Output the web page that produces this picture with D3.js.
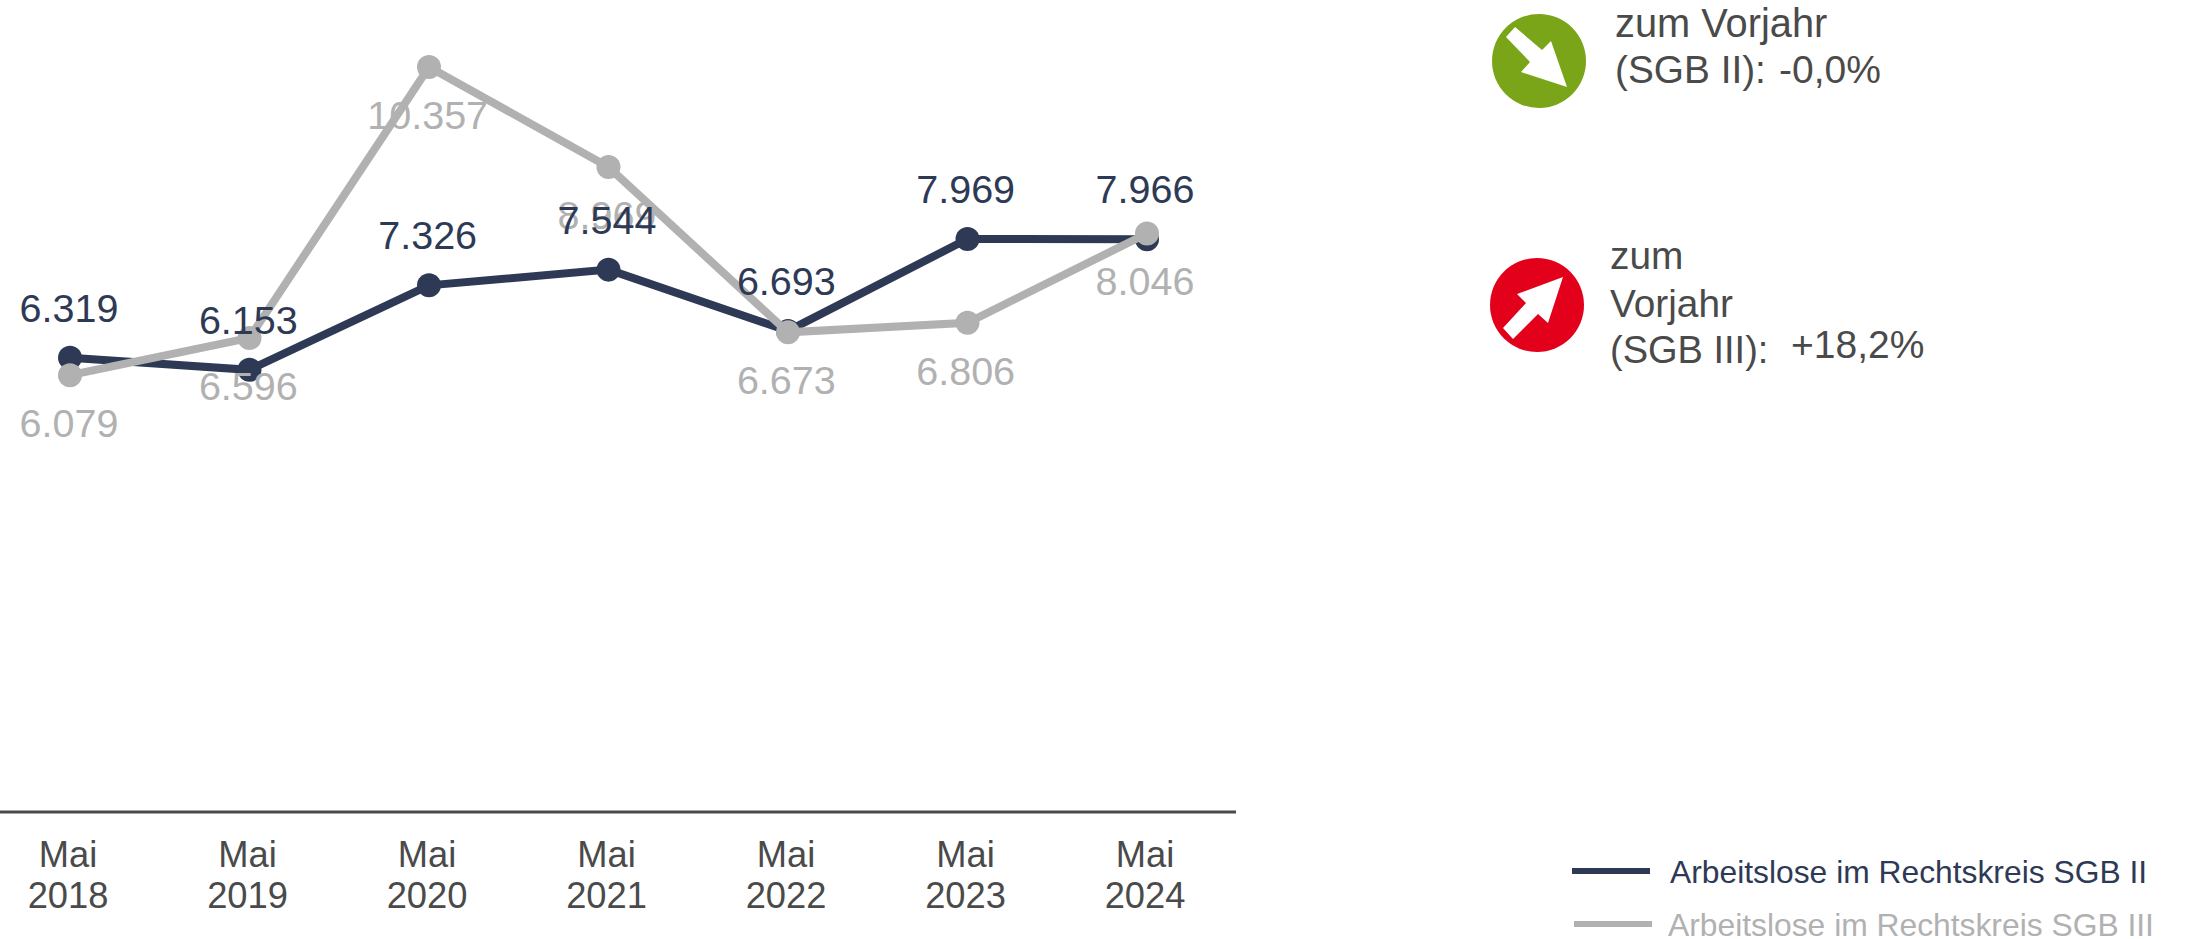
<!DOCTYPE html>
<html>
<head>
<meta charset="utf-8">
<script src="https://cdn.jsdelivr.net/npm/d3@7"></script>
<style>
  html, body { margin: 0; padding: 0; background: #fff; }
  svg { display: block; }
  text { font-family: "Liberation Sans", Arial, sans-serif; }
</style>
</head>
<body>
<div id="chart"></div>
<script>
const months = ['Mai', 'Mai', 'Mai', 'Mai', 'Mai', 'Mai', 'Mai'];
const years = ['2018', '2019', '2020', '2021', '2022', '2023', '2024'];
const sgb2 = [6319, 6153, 7326, 7544, 6693, 7969, 7966];
const sgb3 = [6079, 6596, 10357, 8969, 6673, 6806, 8046];
const legendLabels = ['Arbeitslose im Rechtskreis SGB II', 'Arbeitslose im Rechtskreis SGB III'];

const navy = '#2e3a55';
const grey = '#b1b1b1';
const textGrey = '#4a4a4a';

const svg = d3.select('#chart')
  .append('svg')
  .attr('width', 2185)
  .attr('height', 939);

const x = d3.scalePoint().domain(years).range([70, 1147]);
const labelX = d3.scalePoint().domain(years).range([69, 1145]);
const y = d3.scaleLinear().domain([0, 11000]).range([813, 20.7]);

// x axis, labels on two lines
const axis = svg.append('g')
  .attr('transform', 'translate(0,812)')
  .call(d3.axisBottom(x).tickSize(0).tickPadding(0));
axis.select('.domain').remove();
axis.append('line')
  .attr('x1', 0).attr('x2', 1236)
  .attr('stroke', textGrey).attr('stroke-width', 3);
axis.selectAll('.tick text').each(function(d, i) {
  const t = d3.select(this);
  t.text(null)
    .attr('y', 0).attr('dy', null)
    .attr('fill', textGrey)
    .style('font-size', '36.3px')
    .style('font-family', '"Liberation Sans", Arial, sans-serif');
  t.append('tspan').attr('x', -2.5).attr('y', 54.5).text(months[i]);
  t.append('tspan').attr('x', -2.5).attr('y', 96).text(d);
});

const line = d3.line().x((d, i) => x(years[i])).y(d => y(d));

function drawSeries(values, color) {
  svg.append('path')
    .attr('d', line(values))
    .attr('fill', 'none')
    .attr('stroke', color)
    .attr('stroke-width', 8);
  svg.selectAll(null)
    .data(values)
    .enter().append('circle')
    .attr('cx', (d, i) => x(years[i]))
    .attr('cy', d => y(d))
    .attr('r', 12)
    .attr('fill', color);
}

function drawLabels(values, color, offset) {
  svg.selectAll(null)
    .data(values)
    .enter().append('text')
    .attr('x', (d, i) => labelX(years[i]))
    .attr('y', d => y(d) + offset)
    .attr('text-anchor', 'middle')
    .attr('fill', color)
    .style('font-size', '39.5px')
    .text(d => d3.format(',')(d).replace(',', '.'));
}

drawSeries(sgb2, navy);
drawSeries(sgb3, grey);
drawLabels(sgb3, grey, 62);
drawLabels(sgb2, navy, -36);

// legend
const legend = svg.selectAll('.legend')
  .data(legendLabels)
  .enter().append('g')
  .attr('class', 'legend')
  .attr('transform', (d, i) => `translate(${1572 + i * 2},${871 + i * 53})`);
legend.append('line')
  .attr('x2', 78)
  .attr('stroke', (d, i) => i ? grey : navy)
  .attr('stroke-width', 6);
legend.append('text')
  .attr('x', (d, i) => i ? 94 : 98)
  .attr('y', 12)
  .attr('fill', (d, i) => i ? grey : navy)
  .style('font-size', '31.8px')
  .text(d => d);

// change badges
function badge(cx, cy, color, arrow) {
  svg.append('circle').attr('cx', cx).attr('cy', cy).attr('r', 47).attr('fill', color);
  svg.append('polygon')
    .attr('points', arrow.map(p => [cx + p[0], cy + p[1]].join(',')).join(' '))
    .attr('fill', '#fff');
}
badge(1539, 61, '#7ba518', [[-33, -24], [-24, -34], [3, -11], [12, -20], [28, 26], [-18, 11], [-9, 1]]);
badge(1537, 305, '#e2001a', [[26, -28], [-20, -11], [-11, -2], [-34, 23], [-24, 34], [1, 9], [11, 18]]);

function note(px, py, s, size) {
  svg.append('text')
    .attr('x', px).attr('y', py)
    .attr('fill', textGrey)
    .style('font-size', size + 'px')
    .text(s);
}
note(1615, 37, 'zum Vorjahr', 39.8);
note(1615, 83, '(SGB II):', 38.8);
note(1779, 83, '-0,0%', 39);
note(1610, 269, 'zum', 38.8);
note(1610, 317, 'Vorjahr', 38.8);
note(1610, 363, '(SGB III):', 38);
note(1791, 358, '+18,2%', 39);
</script>
</body>
</html>
